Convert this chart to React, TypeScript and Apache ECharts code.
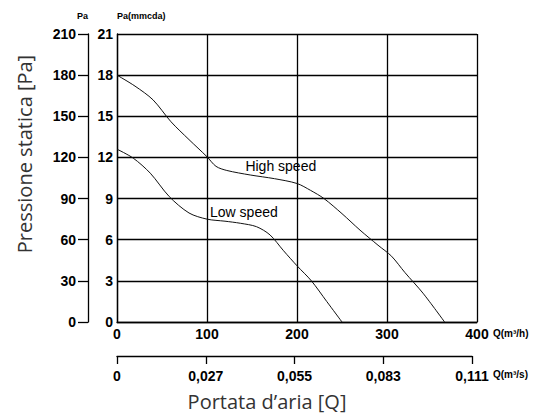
import React, { useEffect, useRef } from "react";
import * as echarts from "echarts";

const highQ = [0, 20, 40, 60, 80, 100, 110, 122, 148, 175, 200, 215, 230, 250, 270, 290, 305, 320, 340, 364];
const highP = [18, 17.2, 16.2, 14.6, 13.3, 12.05, 11.35, 11.05, 10.72, 10.45, 10.1, 9.6, 9.0, 7.9, 6.7, 5.6, 4.8, 3.6, 2.1, 0];
const lowQ = [0, 18, 37, 58, 80, 100, 120, 137, 155, 170, 185, 200, 216, 233, 250];
const lowP = [12.6, 11.95, 10.85, 9.15, 7.95, 7.5, 7.35, 7.2, 6.95, 6.35, 5.2, 4.1, 3.0, 1.5, 0];
const secondaryLabels = ["0", "0,027", "0,055", "0,083", "0,111"];
const curveNames = ["High speed", "Low speed"];
const labelAt = [
  [182, 11.38],
  [141, 8.04],
];

const tickFont = {
  fontFamily: "'Liberation Sans Narrow', 'Liberation Sans', Arial, sans-serif",
  fontWeight: "bold" as const,
  fontSize: 14,
  color: "#000",
};

export default function App() {
  const ref = useRef<HTMLDivElement>(null);
  useEffect(() => {
    const chart = echarts.init(ref.current!, undefined, { renderer: "svg" });
    const black = { lineStyle: { color: "#000", width: 1.3 } };
    const curveLabel = (text: string) => ({
      show: true,
      position: "inside",
      formatter: text,
      fontFamily: "'Liberation Sans', Arial, sans-serif",
      fontSize: 14,
      color: "#000",
    });
    chart.setOption({
      animation: false,
      grid: [
        { left: 117, top: 34, width: 360, height: 288 },
        { left: 117, top: 340, width: 355, height: 16 },
      ],
      xAxis: [
        {
          type: "value",
          gridIndex: 0,
          min: 0,
          max: 400,
          interval: 100,
          axisLine: { show: true, ...black },
          axisTick: { show: false },
          splitLine: { show: true, ...black },
          axisLabel: { ...tickFont, margin: 5 },
        },
        {
          type: "value",
          gridIndex: 1,
          min: 0,
          max: 4,
          interval: 1,
          position: "bottom",
          axisLine: { show: true, ...black },
          axisTick: { show: true, length: 8, ...black },
          splitLine: { show: false },
          axisLabel: { ...tickFont, margin: 13, formatter: (v: number) => secondaryLabels[Math.round(v)] },
        },
      ],
      yAxis: [
        {
          type: "value",
          gridIndex: 0,
          min: 0,
          max: 21,
          interval: 3,
          name: "Pa(mmcda)",
          nameLocation: "end",
          nameGap: 14,
          nameTextStyle: {
            fontFamily: "'Liberation Sans', Arial, sans-serif",
            fontWeight: "bold",
            fontSize: 9,
            align: "left",
            color: "#000",
          },
          axisLine: { show: true, ...black },
          axisTick: { show: false },
          splitLine: { show: true, ...black },
          axisLabel: { ...tickFont, margin: 4 },
        },
        {
          type: "value",
          gridIndex: 0,
          min: 0,
          max: 210,
          interval: 30,
          position: "left",
          offset: 29,
          name: "Pa",
          nameLocation: "end",
          nameGap: 14,
          nameTextStyle: {
            fontFamily: "'Liberation Sans', Arial, sans-serif",
            fontWeight: "bold",
            fontSize: 9,
            align: "right",
            color: "#000",
          },
          axisLine: { show: true, ...black },
          axisTick: { show: true, length: 10, ...black },
          splitLine: { show: false },
          axisLabel: { ...tickFont, margin: 12 },
        },
        {
          type: "value",
          gridIndex: 1,
          show: false,
          min: 0,
          max: 1,
        },
      ],
      series: [
        {
          type: "line",
          name: curveNames[0],
          xAxisIndex: 0,
          yAxisIndex: 0,
          data: highQ.map((q, i) => [q, highP[i]]),
          smooth: 0.3,
          showSymbol: false,
          lineStyle: { color: "#111", width: 1 },
          markPoint: {
            symbol: "circle",
            symbolSize: 0,
            data: [{ coord: labelAt[0], label: curveLabel(curveNames[0]) }],
          },
        },
        {
          type: "line",
          name: curveNames[1],
          xAxisIndex: 0,
          yAxisIndex: 0,
          data: lowQ.map((q, i) => [q, lowP[i]]),
          smooth: 0.3,
          showSymbol: false,
          lineStyle: { color: "#111", width: 1 },
          markPoint: {
            symbol: "circle",
            symbolSize: 0,
            data: [{ coord: labelAt[1], label: curveLabel(curveNames[1]) }],
          },
        },
      ],
      graphic: [
        {
          type: "text",
          x: 24,
          y: 154,
          rotation: Math.PI / 2,
          style: {
            text: "Pressione statica [Pa]",
            fontFamily: "'Open Sans', sans-serif",
            fontSize: 20,
            fill: "#333",
            align: "center",
            verticalAlign: "middle",
          },
        },
        {
          type: "text",
          x: 267,
          y: 401,
          style: {
            text: "Portata d’aria [Q]",
            fontFamily: "'Open Sans', sans-serif",
            fontSize: 20,
            fill: "#333",
            align: "center",
            verticalAlign: "middle",
          },
        },
        {
          type: "text",
          x: 493,
          y: 333,
          style: {
            text: "Q(m³/h)",
            fontFamily: "'Liberation Sans', Arial, sans-serif",
            fontWeight: "bold",
            fontSize: 10,
            fill: "#000",
            align: "left",
            verticalAlign: "middle",
          },
        },
        {
          type: "text",
          x: 493,
          y: 374,
          style: {
            text: "Q(m³/s)",
            fontFamily: "'Liberation Sans', Arial, sans-serif",
            fontWeight: "bold",
            fontSize: 10,
            fill: "#000",
            align: "left",
            verticalAlign: "middle",
          },
        },
      ],
    });
    return () => chart.dispose();
  }, []);
  return <div ref={ref} style={{ width: 536, height: 416, position: "absolute", left: 0, top: 0 }} />;
}
